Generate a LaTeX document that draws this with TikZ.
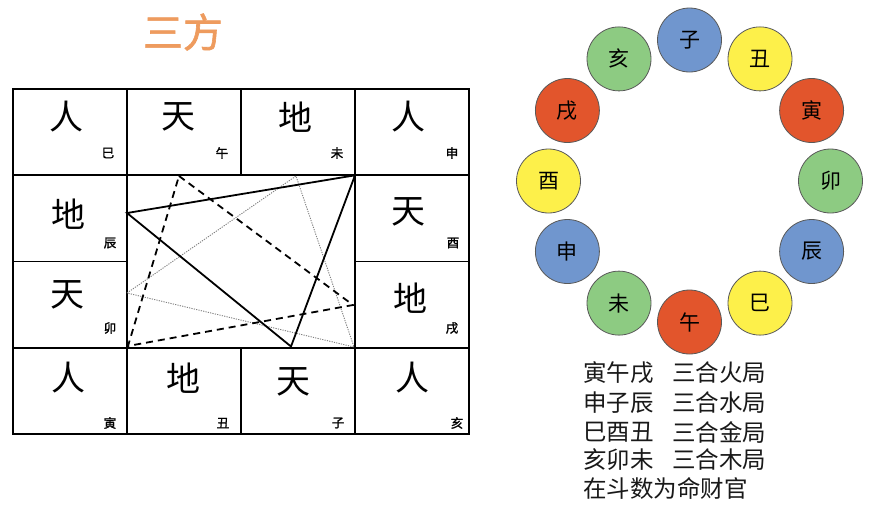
\documentclass[tikz,border=0pt]{standalone}
\usepackage{fontspec}
\newfontfamily\cjk{Noto Sans CJK SC}
\newfontfamily\cjkb[FakeBold=1.5]{Noto Sans CJK SC}
\usetikzlibrary{calc}
\definecolor{cblue}{HTML}{7096CE}
\definecolor{cyellow}{HTML}{FDF04A}
\definecolor{cred}{HTML}{E2552C}
\definecolor{cgreen}{HTML}{8DCB82}
\definecolor{ttl}{HTML}{EE9B5E}
\begin{document}
\begin{tikzpicture}[x=1pt,y=-1pt,
  cellbox/.style={draw=black, line width=1.8pt, rectangle, inner sep=0pt, minimum width=114pt, minimum height=86.25pt},
  bigch/.style={inner sep=0pt, font=\cjk\fontsize{34}{34}\selectfont},
  smallch/.style={inner sep=0pt, font=\cjkb\fontsize{12.5}{12.5}\selectfont},
  solidtri/.style={line width=1.8pt, black},
  dashtri/.style={line width=1.8pt, black, dash pattern=on 7pt off 5pt},
  dottri/.style={line width=0.9pt, black!50, dash pattern=on 1.2pt off 1.2pt},
  ball/.style={circle, draw=black!65, line width=0.8pt, minimum size=64pt, inner sep=0pt, font=\cjk\fontsize{21}{21}\selectfont},
  txt/.style={anchor=west, inner sep=0pt, font=\cjk\fontsize{23.5}{23.5}\selectfont, text=black!90}
]
\useasboundingbox (0,0) rectangle (870,507);
\fill[white] (0,0) rectangle (870,507);

% title
\node[inner sep=0pt, text=ttl, font=\cjkb\fontsize{40}{40}\selectfont] (title) at (183,32) {三方};

% grid cells
\node[cellbox] (c00) at (70,132.1) {};
\node[cellbox] (c01) at (184,132.1) {};
\node[cellbox] (c02) at (298,132.1) {};
\node[cellbox] (c03) at (412,132.1) {};
\node[cellbox] (c10) at (70,218.4) {};
\node[cellbox] (c13) at (412,218.4) {};
\node[cellbox] (c20) at (70,304.6) {};
\node[cellbox] (c23) at (412,304.6) {};
\node[cellbox] (c30) at (70,390.9) {};
\node[cellbox] (c31) at (184,390.9) {};
\node[cellbox] (c32) at (298,390.9) {};
\node[cellbox] (c33) at (412,390.9) {};

% big characters
\node[bigch] (b00) at (66,117) {人};
\node[bigch] (b01) at (178,117) {天};
\node[bigch] (b02) at (295,117) {地};
\node[bigch] (b03) at (408,117) {人};
\node[bigch] (b10) at (68,214) {地};
\node[bigch] (b13) at (408,212) {天};
\node[bigch] (b20) at (67,295) {天};
\node[bigch] (b23) at (410,298) {地};
\node[bigch] (b30) at (68,378) {人};
\node[bigch] (b31) at (183,378) {地};
\node[bigch] (b32) at (293,382) {天};
\node[bigch] (b33) at (412,378) {人};

% small characters
\node[smallch] (s00) at (108,153) {巳};
\node[smallch] (s01) at (222,153) {午};
\node[smallch] (s02) at (337,153) {未};
\node[smallch] (s03) at (452,153) {申};
\node[smallch] (s10) at (110,243) {辰};
\node[smallch] (s13) at (453,243) {酉};
\node[smallch] (s20) at (110,328) {卯};
\node[smallch] (s23) at (452,328) {戌};
\node[smallch] (s30) at (110,423) {寅};
\node[smallch] (s31) at (223,423) {丑};
\node[smallch] (s32) at (338,423) {子};
\node[smallch] (s33) at (457,423) {亥};

% triangle vertices
\coordinate (pchen) at (127,213);
\coordinate (pshen) at (355,175.3);
\coordinate (pzi) at (291,346.5);
\coordinate (pwu) at (179,176);
\coordinate (pxu) at (353,305);
\coordinate (pyin) at (128,346);
\coordinate (pmao) at (127,293);
\coordinate (pwei) at (296,176);
\coordinate (phai) at (354,347);

\draw[dottri] (pmao) -- (pwei) -- (phai) -- cycle;
\draw[dashtri] (pwu) -- (pxu) -- (pyin) -- cycle;
\draw[solidtri] (pchen) -- (pshen) -- (pzi) -- cycle;

% ring of circles
\foreach \k/\lab/\col in {0/子/cblue,1/丑/cyellow,2/寅/cred,3/卯/cgreen,4/辰/cblue,5/巳/cyellow,6/午/cred,7/未/cgreen,8/申/cblue,9/酉/cyellow,10/戌/cred,11/亥/cgreen}{
  \node[ball, fill=\col] (z\k) at ({689.5+141*cos(90-30*\k)},{181-141*sin(90-30*\k)}) {\lab};
}

% text
\node[txt] (t1a) at (583,373) {寅午戌};
\node[txt] (t1b) at (672,373) {三合火局};
\node[txt] (t2a) at (583,403) {申子辰};
\node[txt] (t2b) at (672,403) {三合水局};
\node[txt] (t3a) at (583,432) {巳酉丑};
\node[txt] (t3b) at (672,432) {三合金局};
\node[txt] (t4a) at (583,460) {亥卯未};
\node[txt] (t4b) at (672,460) {三合木局};
\node[txt] (t5) at (583,488) {在斗数为命财官};
\end{tikzpicture}
\end{document}
